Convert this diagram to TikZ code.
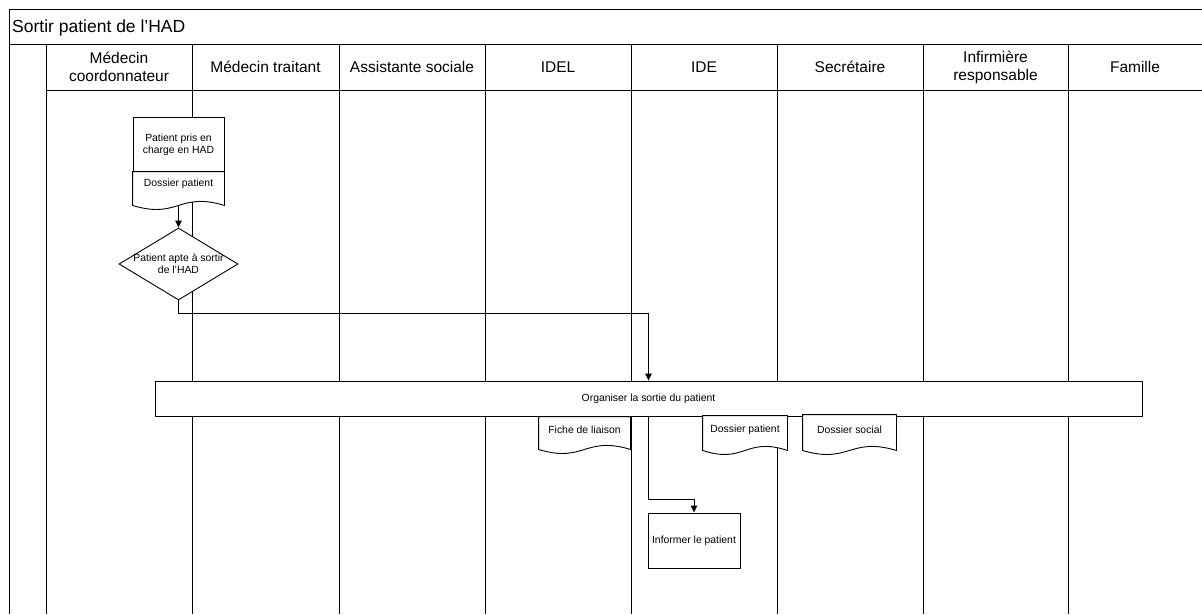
\documentclass[tikz,border=0pt]{standalone}
\usepackage{fontspec}
\setmainfont{Liberation Sans}
\usetikzlibrary{arrows.meta,shapes.geometric,calc}
\newdimen\docXa \newdimen\docXb \newdimen\docXc
\newdimen\docYa \newdimen\docYb \newdimen\docYe
\def\docext{6pt}
\makeatletter
\pgfdeclareshape{wavedoc}{
  \inheritsavedanchors[from=rectangle]
  \inheritanchorborder[from=rectangle]
  \inheritanchor[from=rectangle]{center}
  \inheritanchor[from=rectangle]{north}
  \inheritanchor[from=rectangle]{south}
  \inheritanchor[from=rectangle]{east}
  \inheritanchor[from=rectangle]{west}
  \inheritanchor[from=rectangle]{north east}
  \inheritanchor[from=rectangle]{north west}
  \inheritanchor[from=rectangle]{south east}
  \inheritanchor[from=rectangle]{south west}
  \backgroundpath{
    \southwest \docXa=\pgf@x \docYa=\pgf@y
    \northeast \docXb=\pgf@x \docYb=\pgf@y
    \advance\docYa by -\docext
    \docXc=.5\docXa \advance\docXc by .5\docXb
    \pgfpathmoveto{\pgfqpoint{\docXa}{\docYb}}
    \pgfpathlineto{\pgfqpoint{\docXb}{\docYb}}
    \pgfpathlineto{\pgfqpoint{\docXb}{\docYa}}
    \docYe=\docYa \advance\docYe by 14pt
    \pgf@ya=\docYa \advance\pgf@ya by -14pt
    \pgfpathcurveto{\pgfqpoint{\docXc}{\docYe}}{\pgfqpoint{\docXc}{\pgf@ya}}{\pgfqpoint{\docXa}{\docYa}}
    \pgfpathclose
  }
}
\makeatother
\begin{document}
\begin{tikzpicture}[x=1pt,y=-1pt,
  frame/.style={line width=1pt, black},
  hdr/.style={font=\fontsize{15.5}{18}\selectfont, align=center, inner sep=0pt},
  txt/.style={font=\fontsize{10.4}{12}\selectfont, align=center, inner sep=0pt},
  boxn/.style={txt, draw, fill=white, line width=0.9pt},
  docbox/.style={txt, shape=wavedoc, draw, fill=white, line width=0.9pt},
  doc ext/.code={\def\docext{#1}},
  conn/.style={line width=0.9pt, -{Triangle[width=6.5pt,length=7pt]}},
]
\useasboundingbox (0,0) rectangle (1202,614);
\fill[white] (0,0) rectangle (1202,614);
\draw[frame] (9,614) -- (9,9) -- (1202,9);
\draw[frame] (9,44) -- (1202,44);
\draw[frame] (46,90.5) -- (1202,90.5);
\foreach \x in {46,192,339,485,631,777,923,1068}
  \draw[frame] (\x,44) -- (\x,614);

% title and headers
\node[anchor=base west, inner sep=0pt, font=\fontsize{17.5}{20}\selectfont] (title) at (12,32.7) {Sortir patient de l’HAD};
\node[hdr] (h1) at (119,67) {Médecin\\coordonnateur};
\node[hdr] (h2) at (265.5,67) {Médecin traitant};
\node[hdr] (h3) at (412,67) {Assistante sociale};
\node[hdr] (h4) at (558,67) {IDEL};
\node[hdr] (h5) at (704,67) {IDE};
\node[hdr] (h6) at (850,67) {Secrétaire};
\node[hdr] (h7) at (995.5,67) {Infirmière\\responsable};
\node[hdr] (h8) at (1135,67) {Famille};

% shapes
\node[boxn, minimum width=91pt, minimum height=55pt] (p1) at (178.5,144.5) {Patient pris en\\charge en HAD};
\node[docbox, doc ext=9pt, minimum width=91pt, minimum height=24pt] (p2) at (178.5,184) {Dossier patient};

\node[diamond, draw, fill=white, line width=0.9pt, minimum width=119pt, minimum height=72pt, inner sep=0pt,
  label={[txt]center:Patient apte à sortir\\de l’HAD}] (dia) at (178.5,264) {};

\node[boxn, minimum width=987pt, minimum height=35.5pt] (org) at (648.5,398.75) {Organiser la sortie du patient};

\node[docbox, doc ext=6pt, minimum width=91pt, minimum height=26pt] (fl) at (584.5,430) {Fiche de liaison};
\node[docbox, doc ext=6pt, minimum width=84pt, minimum height=28pt] (dp) at (745,430) {Dossier patient};
\node[docbox, doc ext=5pt, minimum width=93pt, minimum height=30pt] (ds) at (849.5,430) {Dossier social};

\node[boxn, minimum width=92pt, minimum height=55pt] (inf) at (694,540.5) {Informer le patient};

% connectors
\draw[conn] ($(p2.south)+(0,9)$) -- (dia.north);
\draw[conn] (dia.south) -- ++(0,13) -| (org.north);
\draw[conn] (org.south) |- ($(inf.north)+(0,-13)$) -- (inf.north);
\end{tikzpicture}
\end{document}
